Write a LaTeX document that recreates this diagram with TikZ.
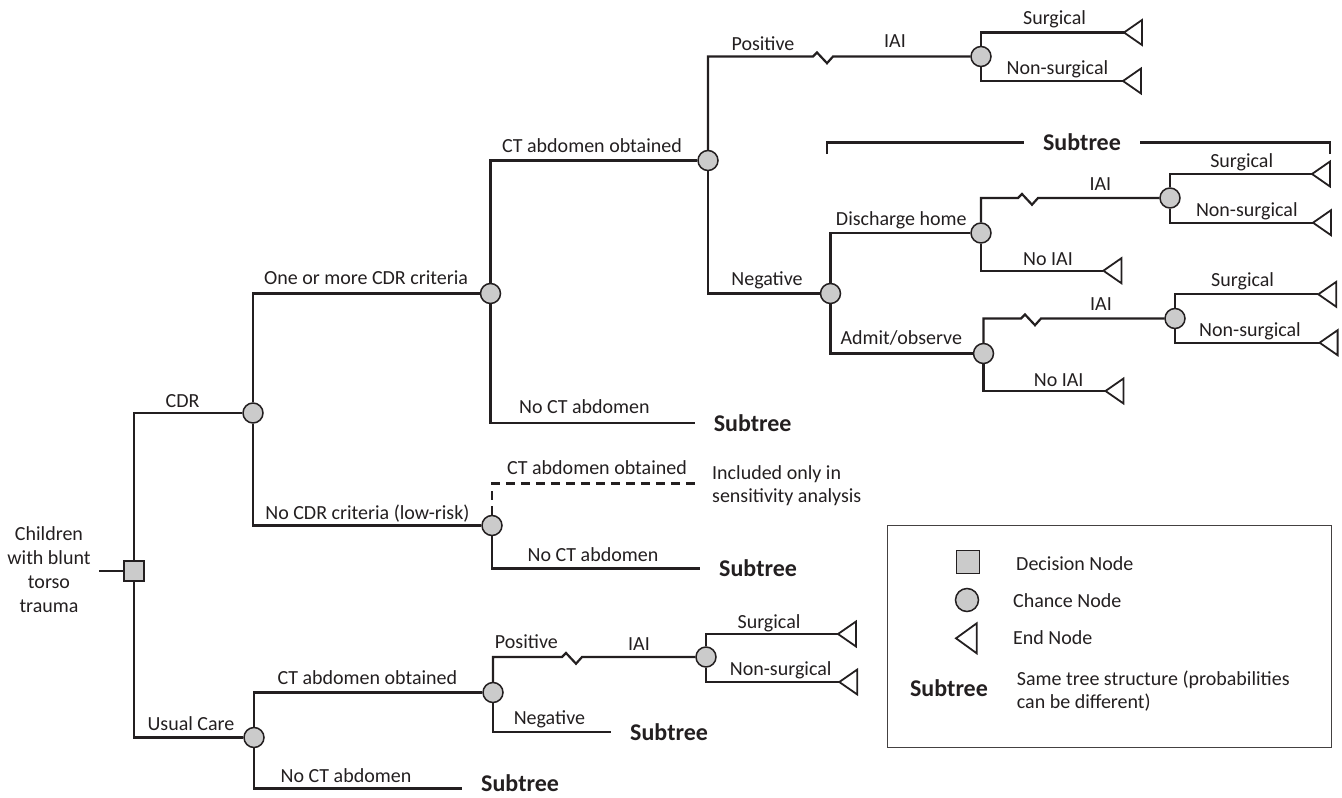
\documentclass[tikz,border=0pt]{standalone}
\usepackage{fontspec}
\setmainfont{Carlito}
\usetikzlibrary{calc}
\definecolor{ink}{HTML}{231F20}
\definecolor{nodefill}{HTML}{CBCBCB}
\begin{document}
\begin{tikzpicture}[x=1pt,y=-1pt,
  br/.style={line width=2.2pt, draw=ink, line join=miter},
  chance/.style={circle, draw=ink, fill=nodefill, line width=1.5pt, minimum size=20pt, inner sep=0pt},
  decis/.style={rectangle, draw=ink, fill=nodefill, line width=1.5pt, minimum size=20pt, inner sep=0pt},
  lbl/.style={anchor=base, text=ink, font=\fontsize{20}{24}\selectfont, inner sep=0pt},
  sub/.style={anchor=west, text=ink, font=\bfseries\fontsize{24}{28}\selectfont, inner xsep=19pt, inner ysep=0pt},
  endtri/.style={line width=1.8pt, draw=ink, fill=white, line join=miter},
]
\useasboundingbox (0,0) rectangle (1342,798);

% ---------- nodes ----------
\node[decis] (root) at (134,571) {};
\coordinate (stem) at (99,571);
\node[lbl, anchor=center, align=center] (kids) at (49,570) {Children\\with blunt\\torso\\trauma};

\node[chance] (cdr) at (253,413) {};
\node[chance] (uc) at (254,737.5) {};
\node[chance] (one) at (490.5,293.5) {};
\node[chance] (nocdr) at (492,525.5) {};
\node[chance] (ctA) at (708,160.5) {};
\node[chance] (posA) at (981,56.5) {};
\node[chance] (negA) at (830.5,293.5) {};
\node[chance] (dh) at (981,233) {};
\node[chance] (ao) at (983.5,353.5) {};
\node[chance] (iaiD) at (1170,198) {};
\node[chance] (iaiO) at (1175,318.5) {};
\node[chance] (ctU) at (493,692.5) {};
\node[chance] (iaiU) at (706,657) {};

% subtree markers
\node[sub] (s1) at (694.6,423) {Subtree};
\node[sub] (s2) at (700,568.5) {Subtree};
\node[sub] (s3) at (611,732) {Subtree};
\node[sub] (s4) at (462,783) {Subtree};
\coordinate (s4e) at (462,788.5);

% end-node apex coordinates
\coordinate (eA1) at (1124,32.5);
\coordinate (eA2) at (1123,81);
\coordinate (eD1) at (1312,174);
\coordinate (eD2) at (1313,222.7);
\coordinate (eD3) at (1103.4,270.7);
\coordinate (eO1) at (1318.3,294.3);
\coordinate (eO2) at (1319.6,342.7);
\coordinate (eO3) at (1105.5,391);
\coordinate (eU1) at (838,634);
\coordinate (eU2) at (839.3,682);

% zigzag starts
\coordinate (zA) at (813,56.5);
\coordinate (zD) at (1018,198);
\coordinate (zO) at (1021,318.5);
\coordinate (zU) at (562,657);
\coordinate (dshE) at (696,483.5);

% ---------- connectors ----------
\draw[br] (stem) -- (root);
\draw[br] (root) |- (cdr);
\draw[br] (root) |- (uc);
\draw[br] (cdr) |- (one);
\draw[br] (cdr) |- (nocdr);
\draw[br] (one) |- (ctA);
\draw[br] (one) |- (s1);
\draw[br] (ctA) |- (zA) -- ++(4,-4) -- ++(10,10.7) -- ++(6,-6.7) -- (posA);
\draw[br] (ctA) |- (negA);
\draw[br] (posA) |- (eA1);
\draw[br] (posA) |- (eA2);
\draw[br] (negA) |- (dh);
\draw[br] (negA) |- (ao);
\draw[br] (dh) |- (zD) -- ++(4,-4) -- ++(10,10.7) -- ++(6,-6.7) -- (iaiD);
\draw[br] (dh) |- (eD3);
\draw[br] (iaiD) |- (eD1);
\draw[br] (iaiD) |- (eD2);
\draw[br] (ao) |- (zO) -- ++(4,-4) -- ++(10,10.7) -- ++(6,-6.7) -- (iaiO);
\draw[br] (ao) |- (eO3);
\draw[br] (iaiO) |- (eO1);
\draw[br] (iaiO) |- (eO2);
\draw[br, dashed, dash pattern=on 9pt off 6pt] (nocdr) |- (dshE);
\draw[br] (nocdr) |- (s2);
\draw[br] (uc) |- (ctU);
\draw[br] (uc) |- (s4e);
\draw[br] (ctU) |- (zU) -- ++(4,-4) -- ++(10,10.7) -- ++(6,-6.7) -- (iaiU);
\draw[br] (ctU) |- (s3);
\draw[br] (iaiU) |- (eU1);
\draw[br] (iaiU) |- (eU2);

% end triangles
\foreach \e in {eA1,eA2,eD1,eD2,eD3,eO1,eO2,eO3,eU1,eU2}
  \draw[endtri] (\e) -- ++(18,-12.5) -- ++(0,25) -- cycle;

% subtree bracket
\node[sub, anchor=center] (sh) at (1082,142.5) {Subtree};
\coordinate (bl) at (827,154);
\coordinate (bq) at (1330,154);
\draw[br] (bl) |- (sh);
\draw[br] (bq) |- (sh);

% ---------- labels ----------
\node[lbl] (l1) at (182.6,407) {CDR};
\node[lbl] (l2) at (366,284.5) {One or more CDR criteria};
\node[lbl] (l3) at (367.4,519.5) {No CDR criteria (low-risk)};
\node[lbl] (l4) at (191,730) {Usual Care};
\node[lbl] (l5) at (367.4,684) {CT abdomen obtained};
\node[lbl] (l6) at (346,782.7) {No CT abdomen};
\node[lbl] (l7) at (526.4,648) {Positive};
\node[lbl] (l8) at (639,650) {IAI};
\node[lbl] (l9) at (549.4,724) {Negative};
\node[lbl] (l10) at (769,628) {Surgical};
\node[lbl] (l11) at (780.7,675) {Non-surgical};
\node[lbl] (l12) at (597,474.3) {CT abdomen obtained};
\node[lbl] (l13) at (593,561) {No CT abdomen};
\node[lbl] (l14) at (584.4,413) {No CT abdomen};
\node[lbl, anchor=base west] (l15) at (712,479.3) {Included only in};
\node[lbl, anchor=base west] (l16) at (712,502.7) {sensitivity analysis};
\node[lbl] (l17) at (592,152.3) {CT abdomen obtained};
\node[lbl] (l18) at (763,50) {Positive};
\node[lbl] (l19) at (895,47.7) {IAI};
\node[lbl] (l20) at (1054.5,24) {Surgical};
\node[lbl] (l21) at (1057.4,74) {Non-surgical};
\node[lbl] (l22) at (767,285.7) {Negative};
\node[lbl] (l23) at (901.3,225) {Discharge home};
\node[lbl] (l24) at (901.3,344) {Admit/observe};
\node[lbl] (l25) at (1100.4,190.7) {IAI};
\node[lbl] (l26) at (1048,265) {No IAI};
\node[lbl] (l27) at (1241.7,167.7) {Surgical};
\node[lbl] (l28) at (1246.8,216.7) {Non-surgical};
\node[lbl] (l29) at (1101,310) {IAI};
\node[lbl] (l30) at (1058.7,386.7) {No IAI};
\node[lbl] (l31) at (1242.6,286.7) {Surgical};
\node[lbl] (l32) at (1250,336.7) {Non-surgical};

% ---------- legend ----------
\node[draw=ink!85, line width=1.5pt, minimum width=444pt, minimum height=222pt, inner sep=0pt] (legend) at (1109.5,636.5) {};
\node[decis, minimum size=23pt] (lgD) at (968,562) {};
\node[chance, minimum size=23pt] (lgC) at (967,600) {};
\coordinate (lgE) at (956,638.3);
\draw[endtri] (lgE) -- ++(20.7,-15) -- ++(0,30) -- cycle;
\node[lbl, anchor=base west] (lt1) at (1016,570) {Decision Node};
\node[lbl, anchor=base west] (lt2) at (1013,607) {Chance Node};
\node[lbl, anchor=base west] (lt3) at (1013,644) {End Node};
\node[sub, anchor=base, inner xsep=0pt] (lt4) at (949,696) {Subtree};
\node[lbl, anchor=base west] (lt5) at (1016.7,685.7) {Same tree structure (probabilities};
\node[lbl, anchor=base west] (lt6) at (1016.7,708.3) {can be different)};
\end{tikzpicture}
\end{document}
